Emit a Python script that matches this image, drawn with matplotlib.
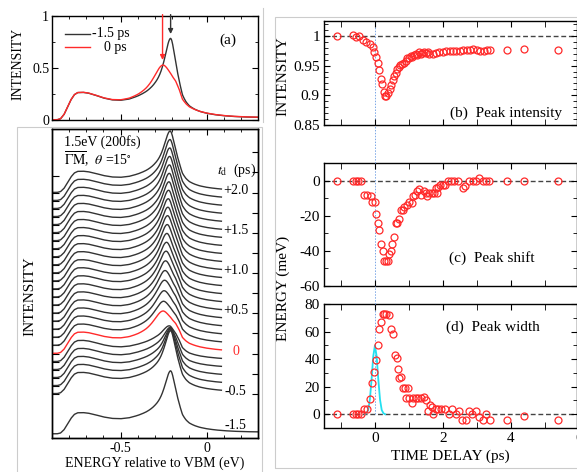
import matplotlib
matplotlib.use('Agg')
import matplotlib.pyplot as plt
import numpy as np
from matplotlib.lines import Line2D
from matplotlib.patches import Rectangle
from matplotlib.ticker import MultipleLocator, NullFormatter

plt.rcParams['font.family'] = ['Liberation Serif', 'DejaVu Serif']
plt.rcParams['mathtext.fontset'] = 'stix'
plt.rcParams['axes.unicode_minus'] = False
plt.rcParams['font.size'] = 10
plt.rcParams['xtick.direction'] = 'in'
plt.rcParams['ytick.direction'] = 'in'
plt.rcParams['axes.linewidth'] = 1.0

# ---- spectra (a) and waterfall ----
# broad band under the peak
bg_energy = [-0.90, -0.87, -0.85, -0.83, -0.81, -0.79, -0.77, -0.75, -0.72, -0.69,
             -0.65, -0.60, -0.55, -0.50, -0.45, -0.40, -0.35, -0.30, -0.25, -0.21,
             -0.18, -0.16, -0.14, -0.12, -0.10, -0.07, -0.04, 0.00, 0.05, 0.10,
             0.15, 0.20, 0.25, 0.30]
bg_int = [0.0, 0.0, 0.01, 0.05, 0.12, 0.19, 0.24, 0.26, 0.262, 0.255,
          0.235, 0.205, 0.185, 0.178, 0.185, 0.205, 0.23, 0.26, 0.28, 0.285,
          0.27, 0.22, 0.14, 0.11, 0.09, 0.075, 0.063, 0.052, 0.042, 0.035,
          0.030, 0.027, 0.025, 0.024]

# peak: position (eV), amplitude, left / right half width
peak_m15 = [-0.209, 0.50, 0.045, 0.035]   # -1.5 ps
peak_0 = [-0.256, 0.25, 0.065, 0.065]     # 0 ps

delays = [-0.5, -0.4, -0.3, -0.2, -0.1, 0.0, 0.1, 0.2, 0.3, 0.4, 0.5, 0.6, 0.7,
          0.8, 0.9, 1.0, 1.1, 1.2, 1.3, 1.4, 1.5, 1.6, 1.7, 1.8, 1.9, 2.0]
wf_pos = [-0.209, -0.209, -0.210, -0.212, -0.218, -0.256, -0.252, -0.248, -0.245,
          -0.242, -0.239, -0.236, -0.233, -0.231, -0.229, -0.227, -0.225, -0.223,
          -0.221, -0.219, -0.217, -0.216, -0.215, -0.214, -0.213, -0.212]
wf_amp = [0.50, 0.42, 0.33, 0.24, 0.16, 0.25, 0.27, 0.30, 0.33, 0.35, 0.37, 0.39,
          0.40, 0.41, 0.42, 0.43, 0.435, 0.44, 0.445, 0.45, 0.455, 0.46, 0.465,
          0.47, 0.475, 0.48]
wf_gl = [0.045, 0.045, 0.046, 0.047, 0.050, 0.065, 0.064, 0.062, 0.060, 0.058,
         0.056, 0.055, 0.054, 0.053, 0.052, 0.051, 0.050, 0.050, 0.049, 0.049,
         0.048, 0.048, 0.047, 0.047, 0.046, 0.046]
wf_gr = [0.035, 0.035, 0.036, 0.037, 0.040, 0.065, 0.062, 0.060, 0.058, 0.055,
         0.053, 0.050, 0.048, 0.046, 0.045, 0.044, 0.043, 0.042, 0.041, 0.040,
         0.040, 0.039, 0.039, 0.038, 0.038, 0.037]
wf_labels = ['+2.0', '+1.5', '+1.0', '+0.5', '0', '-0.5']
wf_label_delays = [2.0, 1.5, 1.0, 0.5, 0.0, -0.5]

# ---- fitted peak parameters vs delay ----
time_b = [-1.13, -0.64, -0.55, -0.47, -0.36, -0.25, -0.15, -0.07, -0.02, 0.03,
          0.08, 0.13, 0.17, 0.22, 0.26, 0.30, 0.34, 0.38, 0.43, 0.48, 0.53, 0.57,
          0.62, 0.66, 0.70, 0.75, 0.80, 0.85, 0.90, 0.95, 1.00, 1.05, 1.10, 1.15,
          1.20, 1.25, 1.30, 1.35, 1.40, 1.45, 1.50, 1.55, 1.60, 1.70, 1.80, 1.90,
          2.00, 2.10, 2.20, 2.30, 2.40, 2.50, 2.60, 2.70, 2.80, 2.90, 3.00, 3.10,
          3.20, 3.30, 3.38, 3.88, 4.38, 5.38]
int_b = [1.000, 1.001, 0.998, 0.999, 0.993, 0.990, 0.987, 0.982, 0.972, 0.965,
         0.955, 0.943, 0.928, 0.919, 0.905, 0.899, 0.898, 0.904, 0.910, 0.917,
         0.925, 0.932, 0.938, 0.944, 0.948, 0.951, 0.952, 0.955, 0.958, 0.962,
         0.963, 0.966, 0.965, 0.968, 0.970, 0.967, 0.972, 0.970, 0.971, 0.973,
         0.971, 0.972, 0.970, 0.969, 0.971, 0.972, 0.973, 0.975, 0.974, 0.975,
         0.975, 0.974, 0.976, 0.977, 0.976, 0.978, 0.977, 0.975, 0.974, 0.976,
         0.977, 0.976, 0.978, 0.976]

time_c = [-1.13, -0.64, -0.56, -0.49, -0.42, -0.33, -0.23, -0.13, -0.09, -0.01,
          0.04, 0.08, 0.12, 0.18, 0.23, 0.27, 0.32, 0.37, 0.42, 0.48, 0.51, 0.56,
          0.61, 0.66, 0.72, 0.77, 0.82, 0.87, 0.93, 0.99, 1.08, 1.11, 1.18, 1.23,
          1.30, 1.35, 1.43, 1.49, 1.54, 1.60, 1.67, 1.74, 1.79, 1.82, 1.87, 1.92,
          1.99, 2.06, 2.16, 2.24, 2.34, 2.46, 2.58, 2.64, 2.77, 2.88, 2.98, 3.07,
          3.17, 3.27, 3.37, 3.88, 4.38, 5.38]
shift_c = [0, 0, 0, 0, 0, -8, -8, -9, -12, -12,
           -19, -24, -28, -36, -40, -46, -46, -46, -42, -40, -36, -32,
           -24, -24, -22, -17, -17, -15, -14, -12, -13, -9, -8, -6,
           -5, -8, -6, -7, -9, -7, -7, -7, -4.5, -7, -3.5, -2.5,
           -2.5, -2.5, 0, 0, 0, 0, -4, -3, 0, 0, 0, 1.5,
           0, 0, 0, 0, 0, 0]

time_d = [-1.13, -0.64, -0.56, -0.49, -0.42, -0.33, -0.23, -0.15, -0.09, -0.02,
          0.03, 0.08, 0.13, 0.18, 0.23, 0.28, 0.32, 0.41, 0.48, 0.54, 0.59, 0.64,
          0.68, 0.72, 0.77, 0.82, 0.88, 0.96, 0.91, 0.99, 1.08, 1.13, 1.20, 1.28,
          1.35, 1.43, 1.49, 1.55, 1.62, 1.67, 1.72, 1.79, 1.87, 1.95, 2.06, 2.18,
          2.28, 2.38, 2.49, 2.56, 2.67, 2.77, 2.87, 2.98, 3.05, 3.18, 3.27, 3.39,
          3.88, 4.38, 5.38]
width_d = [0, 0, 0, 0, 0, 4, 4, 11, 23, 31,
           39, 50, 62, 67, 73, 73, 73, 72, 62, 58, 43, 41,
           33, 26, 27, 19, 19, 19, 12, 12, 8, 11.5, 11.5, 11.5,
           11.5, 12.5, 10, 2.5, 7, 5, 0, 4, 4, 4, 4, 0,
           4, 0, 2.5, -4, -4, 2.5, 0, 2.5, -2, -4, 0, -4,
           -4, -1, -4]

# pump pulse profile (cyan)
pulse_t = [-0.30, -0.25, -0.20, -0.15, -0.10, -0.05, 0.00, 0.05, 0.10, 0.15, 0.20, 0.25, 0.30]
pulse_w = [0, 0.7, 3, 10.5, 25, 42, 50, 42, 25, 10.5, 3, 0.7, 0]

W, H = 577, 472
fig = plt.figure(figsize=(W / 100, H / 100), dpi=100)


def box(l, r, t, b):
    return [l / W, 1 - b / H, (r - l) / W, (b - t) / H]


E = np.linspace(-0.9, 0.3, 800)
bg = np.interp(E, bg_energy, bg_int)


def spectrum(p):
    pos, amp, gl, gr = p
    g = np.where(E < pos, gl, gr)
    return bg + amp / (1 + ((E - pos) / g) ** 2)


black = '#333333'
red = '#ff2a2a'
frame = '#cccccc'

# frames of the original layout
fig.add_artist(Rectangle((17 / W, -0.01), (262 - 17) / W, (472 - 127) / H + 0.01,
                         transform=fig.transFigure, fill=False, ec=frame, lw=0.8))
fig.add_artist(Rectangle((275 / W, 1 - 468 / H), (577 - 275) / W + 0.01, (468 - 17) / H,
                         transform=fig.transFigure, fill=False, ec=frame, lw=0.8))
fig.add_artist(Line2D([263 / W, 263 / W], [1 - 122 / H, 1 - 8 / H], transform=fig.transFigure,
                      color=frame, lw=0.8))

# ---------- (a) ----------
ax_a = fig.add_axes(box(52, 258, 16, 120))
ax_a.plot(E, spectrum(peak_m15), color=black, lw=1.0)
ax_a.plot(E, spectrum(peak_0), color=red, lw=1.0)
ax_a.set_xlim(-0.9, 0.3)
ax_a.set_ylim(0, 1)
ax_a.xaxis.set_major_locator(MultipleLocator(0.5))
ax_a.xaxis.set_minor_locator(MultipleLocator(0.1))
ax_a.xaxis.set_major_formatter(NullFormatter())
ax_a.set_yticks([0, 0.5, 1])
ax_a.set_yticklabels(['0', '0.5', '1'])
ax_a.yaxis.set_minor_locator(MultipleLocator(0.25))
ax_a.tick_params(which='both', top=True, right=True, labelsize=10, pad=2)
ax_a.tick_params(which='major', length=4)
ax_a.tick_params(which='minor', length=2.5)
for p, c, top in [(peak_m15, black, 0.80), (peak_0, red, 0.55)]:
    ax_a.annotate('', xy=(p[0], top), xytext=(p[0], 1.04),
                  arrowprops=dict(arrowstyle='-|>', color=c, lw=1.0, mutation_scale=7),
                  annotation_clip=False)
ax_a.plot([0.063, 0.185], [0.83, 0.83], color=black, lw=1.0, transform=ax_a.transAxes)
ax_a.plot([0.063, 0.185], [0.70, 0.70], color=red, lw=1.0, transform=ax_a.transAxes)
ax_a.text(0.195, 0.83, '-1.5 ps', transform=ax_a.transAxes, va='center', fontsize=10)
ax_a.text(0.25, 0.70, '0 ps', transform=ax_a.transAxes, va='center', fontsize=10)
ax_a.text(0.855, 0.77, '(a)', transform=ax_a.transAxes, ha='center', va='center', fontsize=11)
fig.text(18 / W, 1 - 64 / H, 'INTENSITY', rotation=90, ha='center', va='center', fontsize=10)

# ---------- waterfall ----------
ax_w = fig.add_axes(box(52, 258, 129, 438))
step = 0.1
base_m15 = 0.0
offsets = [0.5 + step * i for i in range(len(delays))]
wf_mask = E <= 0.087
for i, d in enumerate(delays):
    y = spectrum([wf_pos[i], wf_amp[i], wf_gl[i], wf_gr[i]]) + offsets[i]
    c = red if d == 0.0 else black
    ax_w.plot(E[wf_mask], y[wf_mask], color=c, lw=1.0, zorder=3 if d == 0.0 else 2)
ax_w.plot(E, spectrum(peak_m15) + base_m15, color=black, lw=1.0)
ax_w.set_xlim(-0.9, 0.3)
ax_w.set_ylim(-0.05, 3.79)
ax_w.xaxis.set_major_locator(MultipleLocator(0.5))
ax_w.xaxis.set_minor_locator(MultipleLocator(0.1))
ax_w.xaxis.set_major_formatter(lambda v, pos: '0' if abs(v) < 1e-9 else '%g' % v)
ax_w.set_yticks(offsets + [3.2])
ax_w.yaxis.set_major_formatter(NullFormatter())
ax_w.tick_params(axis='x', which='both', top=True, labelsize=10, pad=3)
ax_w.tick_params(axis='x', which='major', length=4)
ax_w.tick_params(axis='x', which='minor', length=2.5)
ax_w.tick_params(axis='y', length=5, right=False)
for i, d in enumerate(delays):
    if d == 0.0:
        ax_w.yaxis.get_major_ticks()[i].tick1line.set_color(red)
tw = ax_w.twinx()
tw.set_ylim(ax_w.get_ylim())
tw.set_yticks(np.arange(0.5, 3.6, 0.25))
tw.tick_params(axis='y', length=4, labelright=False)
for lab, d in zip(wf_labels, wf_label_delays):
    i = delays.index(d)
    ax_w.text(0.17, offsets[i] + 0.03, lab, ha='center', va='center', fontsize=10,
              color=red if d == 0.0 else 'black')
ax_w.text(0.17, base_m15 + 0.11, '-1.5', ha='center', va='center', fontsize=10)
ax_w.text(-0.83, 3.63, '1.5eV (200fs)', fontsize=10, va='center')
ax_w.text(-0.83, 3.41, r'$\overline{\Gamma\mathrm{M}}$,  $\theta$ =15$^{\circ}$', fontsize=10, va='center')
ax_w.text(0.06, 3.28, r'$t_\mathrm{d}$  (ps)', fontsize=10, va='center')
ax_w.set_xlabel('ENERGY relative to VBM (eV)', fontsize=10, labelpad=1)
fig.text(30 / W, 1 - 296 / H, 'INTENSITY', rotation=90, ha='center', va='center', fontsize=11)

# ---------- (b), (c), (d) ----------
mk = dict(ls='none', marker='o', ms=5, mfc='none', mec=red, mew=0.9)
dash = dict(color='#444444', lw=1.0, ls=(0, (3.5, 2)), zorder=1)
guide = dict(color='#7aa6e6', lw=0.7, ls=(0, (1.5, 1.5)), zorder=1)

ax_b = fig.add_axes(box(324, 577, 21, 125))
ax_c = fig.add_axes(box(324, 577, 163, 286))
ax_d = fig.add_axes(box(324, 577, 304, 428))

ax_b.axhline(1, **dash)
ax_b.axvline(0, **guide)
ax_b.plot(time_b, int_b, **mk)
ax_b.set_ylim(0.85, 1.025)
ax_b.set_yticks([0.85, 0.9, 0.95, 1])
ax_b.set_yticklabels(['0.85', '0.9', '0.95', '1'])
ax_b.yaxis.set_minor_locator(MultipleLocator(0.01))
ax_b.text(0.498, 0.115, '(b)  Peak intensity', transform=ax_b.transAxes, fontsize=11, va='center')

ax_c.axhline(0, **dash)
ax_c.axvline(0, **guide)
ax_c.plot(time_c, shift_c, **mk)
ax_c.set_ylim(-60, 10)
ax_c.set_yticks([-60, -40, -20, 0])
ax_c.yaxis.set_minor_locator(MultipleLocator(10))
ax_c.text(0.494, 0.226, '(c)  Peak shift', transform=ax_c.transAxes, fontsize=11, va='center')

ax_d.axhline(0, **dash)
ax_d.axvline(0, ymin=0.11, **guide)
ax_d.plot(pulse_t, pulse_w, color='#22e0f0', lw=1.3, zorder=2)
ax_d.plot(time_d, width_d, zorder=3, **mk)
ax_d.set_ylim(-10, 80)
ax_d.set_yticks([0, 20, 40, 60, 80])
ax_d.yaxis.set_minor_locator(MultipleLocator(10))
ax_d.text(0.484, 0.815, '(d)  Peak width', transform=ax_d.transAxes, fontsize=11, va='center')
ax_d.set_xlabel('TIME DELAY (ps)', fontsize=11, labelpad=3)
# the "6" label sits on the cut right edge
ax_d.text(6.0, -0.035, '6', transform=ax_d.get_xaxis_transform(), ha='center', va='top',
          fontsize=11, clip_on=False)

for ax in (ax_b, ax_c, ax_d):
    ax.set_xlim(-1.5, 5.95)
    ax.xaxis.set_major_locator(MultipleLocator(2))
    ax.xaxis.set_minor_locator(MultipleLocator(1))
    ax.tick_params(which='both', top=True, right=True, labelsize=11, pad=3)
    ax.tick_params(which='major', length=4)
    ax.tick_params(which='minor', length=3)
    ax.tick_params(axis='x', which='minor', length=4)
ax_b.tick_params(axis='x', labelbottom=False)
ax_c.tick_params(axis='x', labelbottom=False)

# t = 0 guide in the gaps between the right panels
x0 = (324 + (0 + 1.5) / 7.45 * 253) / W
for top_px, bot_px in [(125, 163), (286, 304)]:
    fig.add_artist(Line2D([x0, x0], [1 - bot_px / H, 1 - top_px / H], transform=fig.transFigure,
                          color='#7aa6e6', lw=0.7, ls=(0, (1.5, 1.5))))

fig.text(283 / W, 1 - 76 / H, 'INTENSITY', rotation=90, ha='center', va='center', fontsize=11)
fig.text(283 / W, 1 - 288 / H, 'ENERGY (meV)', rotation=90, ha='center', va='center', fontsize=11)

fig.savefig('out.png', dpi=100)
